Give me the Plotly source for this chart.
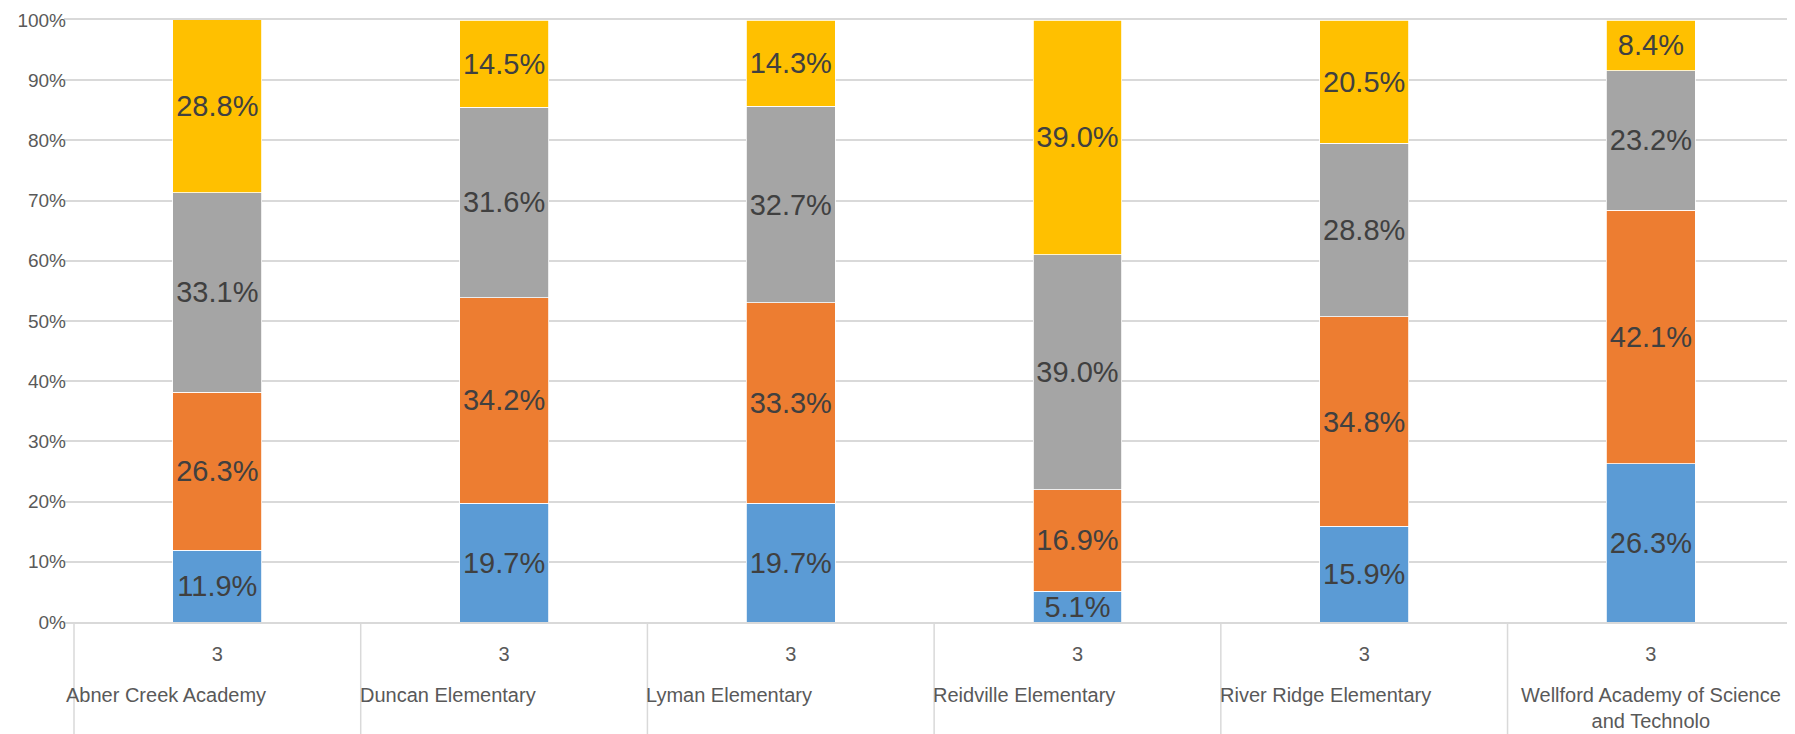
import plotly.graph_objects as go

schools = ["Abner Creek Academy", "Duncan Elementary", "Lyman Elementary",
           "Reidville Elementary", "River Ridge Elementary",
           "Wellford Academy of Science and Technolo"]
grade = ["3", "3", "3", "3", "3", "3"]

s1 = [11.9, 19.7, 19.7, 5.1, 15.9, 26.3]
s2 = [26.3, 34.2, 33.3, 16.9, 34.8, 42.1]
s3 = [33.1, 31.6, 32.7, 39.0, 28.8, 23.2]
s4 = [28.8, 14.5, 14.3, 39.0, 20.5, 8.4]

series = [s1, s2, s3, s4]
colors = ["#5B9BD5", "#ED7D31", "#A5A5A5", "#FFC000"]

FONT = "Liberation Sans"
fig = go.Figure()
for vals, col in zip(series, colors):
    fig.add_trace(go.Bar(
        x=schools, y=vals, marker=dict(color=col, line=dict(color="#FFFFFF", width=0.8)),
        text=[f"{v:.1f}%" for v in vals], textposition="inside", insidetextanchor="middle",
        textangle=0, constraintext="none",
        textfont=dict(family=FONT, size=29, color="#404040"),
        hoverinfo="skip"))

# page body has an 8px default margin, so the figure is sized to fit the window
fig.update_layout(
    barmode="stack", bargap=0.69, showlegend=False,
    width=1787, height=726,
    margin=dict(l=56, r=0, t=12, b=112, autoexpand=False),
    plot_bgcolor="white", paper_bgcolor="white",
    font=dict(family=FONT),
)
fig.update_yaxes(range=[0, 100], tickvals=list(range(0, 101, 10)),
                 ticktext=[f"{v}%" for v in range(0, 101, 10)], showgrid=True,
                 gridcolor="#D9D9D9", gridwidth=1.5, zeroline=False, showline=False,
                 automargin=False, ticks="", ticklabelstandoff=-3,
                 ticklabeloverflow="allow",
                 tickfont=dict(family=FONT, size=19, color="#595959"))
fig.update_xaxes(type="category", tickvals=schools, ticktext=grade,
                 showline=True, mirror=True, linecolor="#D9D9D9", linewidth=1.5,
                 ticks="", ticklabelstandoff=13, automargin=False,
                 tickfont=dict(family=FONT, size=20, color="#595959"))

n = len(schools)
for i in range(n + 1):
    fig.add_shape(type="line", xref="x", yref="paper", x0=i - 0.5, x1=i - 0.5,
                  y0=0, y1=-0.25, line=dict(color="#D9D9D9", width=1.5))

for i, name in enumerate(schools):
    words = name.split(" ")
    if len(name) > 30:
        label = " ".join(words[:4]) + "<br>" + " ".join(words[4:])
        fig.add_annotation(x=i, xref="x", y=-0.10, yref="paper", text=label,
                           showarrow=False, xanchor="center", yanchor="top",
                           align="center",
                           font=dict(family=FONT, size=20, color="#595959"))
    else:
        fig.add_annotation(x=i - 0.5, xref="x", y=-0.10, yref="paper", text=name,
                           showarrow=False, xanchor="left", yanchor="top",
                           xshift=-3 if i else -10,
                           font=dict(family=FONT, size=20, color="#595959"))

fig.write_html("out.html")
